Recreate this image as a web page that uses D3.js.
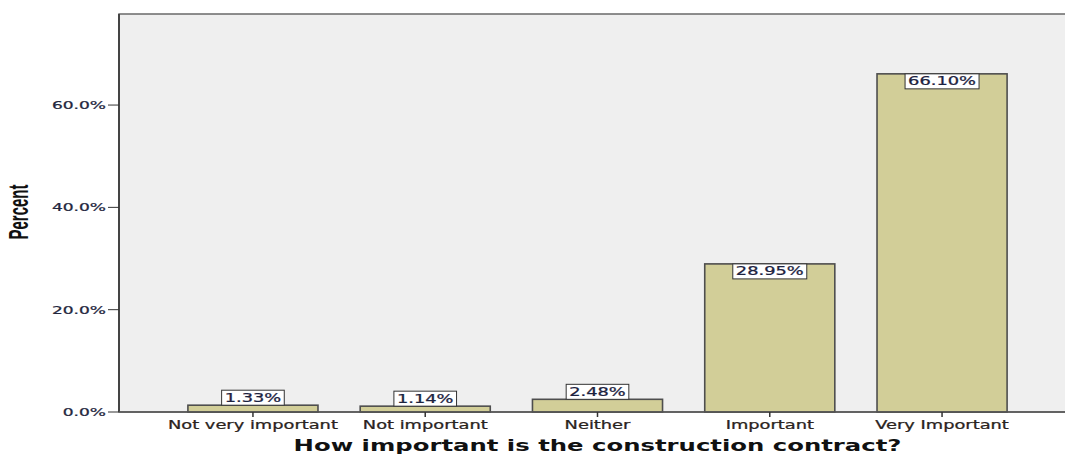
<!DOCTYPE html>
<html>
<head>
<meta charset="utf-8">
<script src="https://cdn.jsdelivr.net/npm/d3@7"></script>
<style>
  body { margin: 0; background: #fff; }
  svg { display: block; }
</style>
</head>
<body>
<svg width="1065" height="454"></svg>
<script>
const categories = ["Not very important", "Not important", "Neither", "Important", "Very Important"];
const values = [1.33, 1.14, 2.48, 28.95, 66.10];
const valueLabels = ["1.33%", "1.14%", "2.48%", "28.95%", "66.10%"];
const yTicks = [0, 20, 40, 60];
const xTitle = "How important is the construction contract?";
const yTitle = "Percent";

const svg = d3.select("svg");
const SX = 1.55; // the source picture is stretched sideways

const plotLeft = 119, plotRight = 1076, plotTop = 14, plotBottom = 412;

const x = d3.scaleBand()
    .domain(categories)
    .range([plotLeft, plotRight])
    .paddingInner(0.245)
    .paddingOuter(0.4);

const y = d3.scaleLinear()
    .domain([0, 77.8])
    .range([plotBottom, plotTop]);

function place(sel, px, py, extra, sx) {
    sel.attr("transform", `translate(${px},${py}) scale(${sx || SX},1)` + (extra || ""));
}

// plot background
svg.append("rect")
    .attr("x", plotLeft).attr("y", plotTop)
    .attr("width", plotRight - plotLeft).attr("height", plotBottom - plotTop)
    .attr("fill", "#efefef")
    .attr("stroke", "#6a6a6a")
    .attr("stroke-width", 1.5);

svg.append("line")
    .attr("x1", plotLeft).attr("x2", plotLeft)
    .attr("y1", plotTop).attr("y2", plotBottom)
    .attr("stroke", "#444").attr("stroke-width", 2);

// bars
svg.append("g").selectAll("rect")
    .data(values)
    .enter().append("rect")
    .attr("x", (d, i) => x(categories[i]))
    .attr("y", d => y(d))
    .attr("width", x.bandwidth())
    .attr("height", d => plotBottom - y(d))
    .attr("fill", "#d2ce98")
    .attr("stroke", "#4e4e4e")
    .attr("stroke-width", 1.6);

// x axis line
svg.append("line")
    .attr("x1", plotLeft).attr("x2", plotRight)
    .attr("y1", plotBottom).attr("y2", plotBottom)
    .attr("stroke", "#555").attr("stroke-width", 1.6);

// y ticks
const yAxis = svg.append("g");
yTicks.forEach(t => {
    yAxis.append("line")
        .attr("x1", plotLeft - 11).attr("x2", plotLeft)
        .attr("y1", y(t)).attr("y2", y(t))
        .attr("stroke", "#333").attr("stroke-width", 1);
    yAxis.append("text")
        .attr("text-anchor", "end")
        .attr("font-family", "DejaVu Sans, Verdana, sans-serif")
        .attr("font-size", 11)
        .attr("fill", "#23263d")
        .attr("stroke", "#23263d").attr("stroke-width", 0.25)
        .text(t.toFixed(1) + "%")
        .call(place, plotLeft - 13, y(t) + 4);
});

// x ticks and labels
const xAxis = svg.append("g");
categories.forEach(c => {
    const cx = x(c) + x.bandwidth() / 2;
    xAxis.append("line")
        .attr("x1", cx).attr("x2", cx)
        .attr("y1", plotBottom).attr("y2", plotBottom + 5)
        .attr("stroke", "#333").attr("stroke-width", 1.5);
    xAxis.append("text")
        .attr("text-anchor", "middle")
        .attr("font-family", "DejaVu Sans, Verdana, sans-serif")
        .attr("font-size", 11.5)
        .attr("fill", "#2a2320")
        .attr("stroke", "#2a2320").attr("stroke-width", 0.25)
        .text(c)
        .call(place, cx, 429);
});

// value labels
const labels = svg.append("g");
values.forEach((v, i) => {
    const cx = x(categories[i]) + x.bandwidth() / 2;
    const barTop = y(v);
    const g = labels.append("g");
    const txt = g.append("text")
        .attr("text-anchor", "middle")
        .attr("font-family", "DejaVu Sans, Verdana, sans-serif")
        .attr("font-size", 11.5)
        .attr("fill", "#1c2240")
        .attr("stroke", "#1c2240").attr("stroke-width", 0.25)
        .text(valueLabels[i]);
    const w = txt.node().getComputedTextLength() * SX + 6;
    const h = 15;
    const boxTop = (plotBottom - barTop > 20) ? barTop : barTop - h;
    g.insert("rect", "text")
        .attr("x", cx - w / 2).attr("y", boxTop)
        .attr("width", w).attr("height", h)
        .attr("fill", "#fff")
        .attr("stroke", "#333").attr("stroke-width", 1);
    txt.call(place, cx, boxTop + 11.5);
});

// axis titles
svg.append("text")
    .attr("text-anchor", "middle")
    .attr("font-family", "DejaVu Sans, Verdana, sans-serif")
    .attr("font-weight", "bold")
    .attr("font-size", 15.7)
    .attr("fill", "#111")
    .text(xTitle)
    .call(place, (plotLeft + plotRight) / 2, 451);

svg.append("text")
    .attr("text-anchor", "middle")
    .attr("font-family", "Liberation Sans Narrow, Arial Narrow, sans-serif")
    .attr("font-stretch", "condensed")
    .attr("font-weight", "bold")
    .attr("font-size", 15)
    .attr("fill", "#111")
    .text(yTitle)
    .call(place, 28, 212, " rotate(-90)", 1.9);
</script>
</body>
</html>
